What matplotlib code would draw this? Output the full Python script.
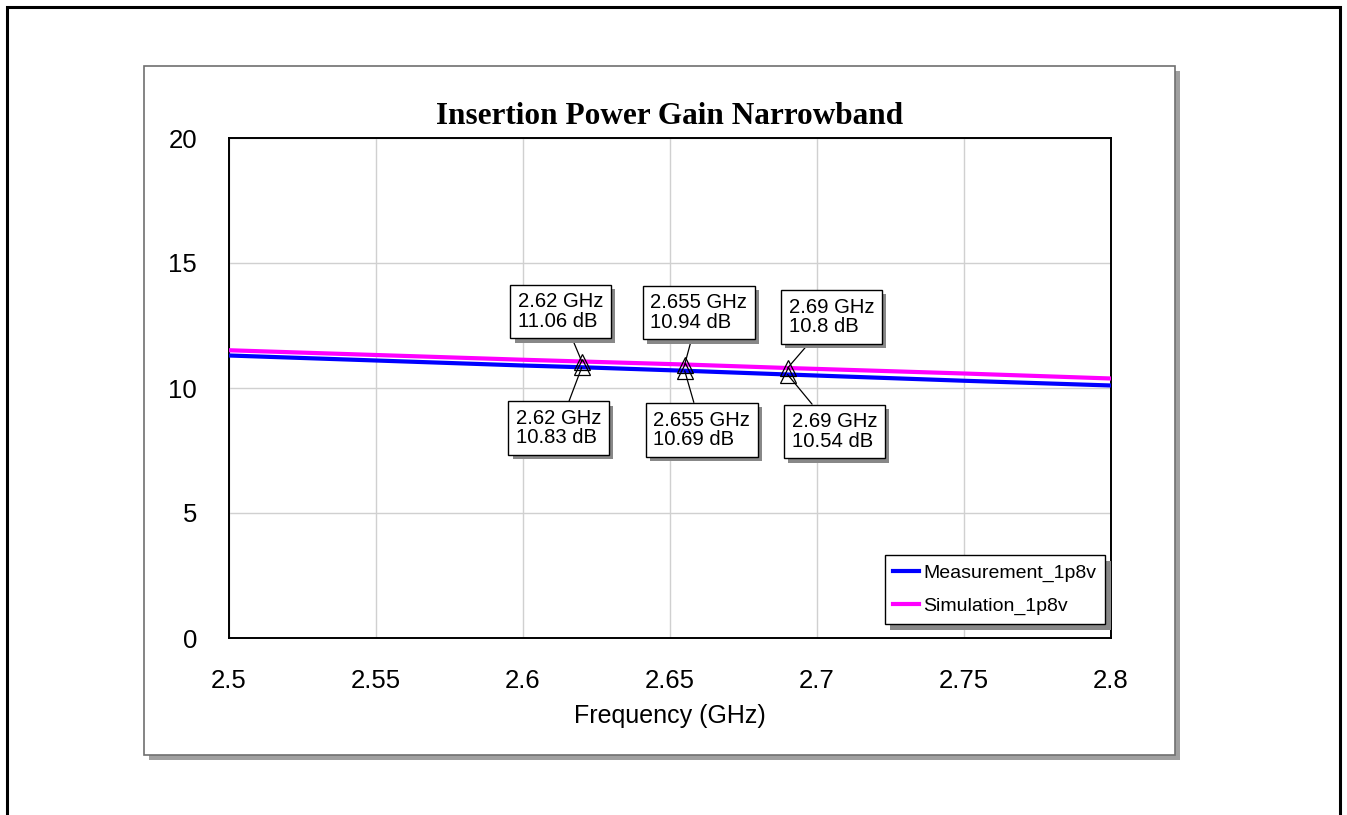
import matplotlib
matplotlib.use("Agg")
import matplotlib.pyplot as plt
from matplotlib.patches import Rectangle
import matplotlib.patheffects as pe

# ---- data ----
freq = [2.5, 2.55, 2.6, 2.62, 2.655, 2.69, 2.75, 2.8]
meas = [11.30, 11.10, 10.90, 10.83, 10.69, 10.54, 10.29, 10.10]
sim = [11.51, 11.32, 11.13, 11.06, 10.94, 10.80, 10.58, 10.38]
marker_freq = [2.62, 2.655, 2.69]
meas_marker = [10.83, 10.69, 10.54]
sim_marker = [11.06, 10.94, 10.80]
marker_freq_lbl = ["2.62", "2.655", "2.69"]
meas_lbl = ["10.83", "10.69", "10.54"]
sim_lbl = ["11.06", "10.94", "10.8"]
xticks = [2.5, 2.55, 2.6, 2.65, 2.7, 2.75, 2.8]
xtick_labels = ["2.5", "2.55", "2.6", "2.65", "2.7", "2.75", "2.8"]
yticks = [0, 5, 10, 15, 20]

W, H = 1347, 815
fig = plt.figure(figsize=(W / 100, H / 100), dpi=100)
fig.patch.set_facecolor("white")
plt.rcParams["font.family"] = ["Liberation Sans", "DejaVu Sans"]

def px(x0, y0, x1, y1):
    return (x0 / W, 1 - y1 / H, (x1 - x0) / W, (y1 - y0) / H)

# outer black frame (bottom extends past the image)
fig.add_artist(Rectangle((7 / W, -0.05), (1340 - 7) / W, (1 - 7 / H) + 0.05,
                         transform=fig.transFigure, fill=False, ec="black", lw=2.2))
# inner panel shadow and panel
x0, y0, x1, y1 = px(144, 66, 1175, 755)
fig.add_artist(Rectangle((x0 + 5 / W, y0 - 5 / H), x1, y1, transform=fig.transFigure,
                         fc="#a0a0a0", ec="none", zorder=0))
fig.add_artist(Rectangle((x0, y0), x1, y1, transform=fig.transFigure,
                         fc="white", ec="#707070", lw=1.2, zorder=0.5))

ax = fig.add_axes(px(229, 138, 1111, 638))
ax.set_zorder(2)
ax.plot(freq, sim, color="#ff00ff", lw=3.0, label="Simulation_1p8v", zorder=3)
ax.plot(freq, meas, color="#0000ff", lw=3.0, label="Measurement_1p8v", zorder=3)
ax.plot(marker_freq, sim_marker, ls="none", marker="^", ms=11, mfc="none", mec="black", mew=0.9, zorder=4)
ax.plot(marker_freq, meas_marker, ls="none", marker="^", ms=11, mfc="none", mec="black", mew=0.9, zorder=4)

ax.set_xlim(2.5, 2.8)
ax.set_ylim(0, 20)
ax.set_xticks(xticks)
ax.set_xticklabels(xtick_labels)
ax.set_yticks(yticks)
ax.tick_params(length=0, labelsize=18.5, pad=22)
ax.tick_params(axis="y", pad=23)
ax.grid(True, color="#d0d0d0", lw=1.0)
for s in ax.spines.values():
    s.set_linewidth(1.4)
ax.set_xlabel("Frequency (GHz)", fontsize=18, labelpad=8)
ax.set_title("Insertion Power Gain Narrowband", fontsize=22.5, fontweight="bold",
             family=["Liberation Serif", "DejaVu Serif"], pad=10)

up_off = [(-21, 50), (14, 52), (44, 51)]
dn_off = [(-23, -61), (17, -59), (47, -57)]
shadow = [pe.SimplePatchShadow(offset=(3, -3), shadow_rgbFace="#888888", alpha=1.0), pe.Normal()]
for i in range(3):
    for val, lbl, off in ((sim_marker[i], sim_lbl[i], up_off[i]), (meas_marker[i], meas_lbl[i], dn_off[i])):
        t = ax.annotate(f"{marker_freq_lbl[i]} GHz\n{lbl} dB", xy=(marker_freq[i], val),
                        xytext=off, textcoords="offset pixels", ha="center", va="center",
                        multialignment="left", fontsize=14.6, linespacing=1.02,
                        bbox=dict(boxstyle="square,pad=0.38", fc="white", ec="black", lw=1.0),
                        arrowprops=dict(arrowstyle="-", color="black", lw=0.9, shrinkA=0, shrinkB=0),
                        zorder=5)
        t.get_bbox_patch().set_path_effects(shadow)

leg = ax.legend(handles=[ax.lines[1], ax.lines[0]], loc="lower right",
                fontsize=14, handlelength=1.3, borderaxespad=0,
                handletextpad=0.25, borderpad=0.45, labelspacing=0.8,
                fancybox=False, shadow=False, framealpha=1, edgecolor="black")
leg.set_bbox_to_anchor((0.9935, 0.028), transform=ax.transAxes)
leg.get_frame().set_linewidth(1.0)
leg.get_frame().set_path_effects([pe.SimplePatchShadow(offset=(4, -4), shadow_rgbFace="#888888", alpha=1.0), pe.Normal()])

fig.savefig("out.png", dpi=100, facecolor="white")
